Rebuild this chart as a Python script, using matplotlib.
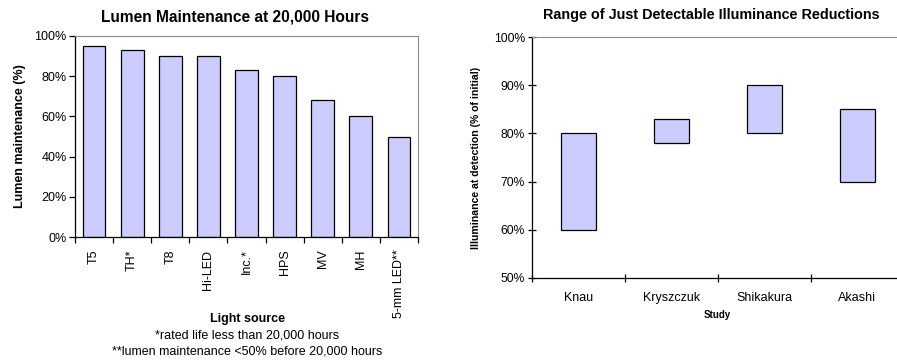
import matplotlib.pyplot as plt
from matplotlib.ticker import FuncFormatter, MultipleLocator

plt.rcParams['font.family'] = ['Liberation Sans', 'DejaVu Sans']

# lumen maintenance after 20,000 h
sources = ['T5', 'TH*', 'T8', 'Hi-LED', 'Inc.*', 'HPS', 'MV', 'MH', '5-mm LED**']
maintenance = [95, 93, 90, 90, 83, 80, 68, 60, 50]

# just detectable reduction ranges (low, high)
studies = ['Knau', 'Kryszczuk', 'Shikakura', 'Akashi']
range_low = [60, 78, 80, 70]
range_high = [80, 83, 90, 85]

bar_color = '#CCCCFF'
grey = '#8c8c8c'
W, H = 897, 362

fig = plt.figure(figsize=(W / 100, H / 100), dpi=100)
pct = FuncFormatter(lambda v, p: '%d%%' % v)

# --- left: bar chart
ax1 = fig.add_axes([75 / W, (H - 237) / H, 343 / W, 201 / H])
xs = range(len(sources))
ax1.bar(xs, maintenance, width=0.6, color=bar_color, edgecolor='black', linewidth=0.9)
ax1.set_xlim(-0.5, len(sources) - 0.5)
ax1.set_ylim(0, 100)
ax1.yaxis.set_major_locator(MultipleLocator(20))
ax1.yaxis.set_major_formatter(pct)
ax1.set_xticks(list(xs))
ax1.set_xticklabels(sources, rotation=90, fontsize=9)
ax1.set_xticks([i - 0.5 for i in range(len(sources) + 1)], minor=True)
ax1.tick_params(axis='x', which='major', length=0, pad=9)
ax1.tick_params(axis='x', which='minor', length=4, width=0.9, direction='out')
ax1.tick_params(axis='y', length=4, width=0.9, labelsize=9, pad=2)
for s in ('top', 'right'):
    ax1.spines[s].set_color(grey)
for s in ('left', 'bottom'):
    ax1.spines[s].set_linewidth(0.9)
fig.text(235 / W, 1 - 17 / H, 'Lumen Maintenance at 20,000 Hours', ha='center',
         va='center', fontsize=11.2, fontweight='bold')
ax1.set_ylabel('Lumen maintenance (%)', fontsize=9, fontweight='bold', labelpad=6)
fig.text(247 / W, 1 - 319 / H, 'Light source', ha='center', va='center',
         fontsize=9, fontweight='bold')
fig.text(247 / W, 1 - 335 / H, '*rated life less than 20,000 hours',
         ha='center', va='center', fontsize=9)
fig.text(247 / W, 1 - 352 / H, '**lumen maintenance <50% before 20,000 hours',
         ha='center', va='center', fontsize=9)

# --- right: floating range boxes
ax2 = fig.add_axes([531.7 / W, 84 / H, 372 / W, 241 / H])
xs2 = range(len(studies))
heights = [hi - lo for lo, hi in zip(range_low, range_high)]
ax2.vlines(list(xs2), range_low, range_high, color='black', linewidth=0.6, zorder=0.5)
ax2.bar(xs2, heights, bottom=range_low, width=0.375, color=bar_color,
        edgecolor='black', linewidth=0.9, zorder=1)
ax2.set_xlim(-0.5, len(studies) - 0.5)
ax2.set_ylim(50, 100)
ax2.yaxis.set_major_locator(MultipleLocator(10))
ax2.yaxis.set_major_formatter(pct)
ax2.set_xticks(list(xs2))
ax2.set_xticklabels(studies, fontsize=9)
ax2.set_xticks([i - 0.5 for i in range(len(studies) + 1)], minor=True)
ax2.tick_params(axis='x', which='major', length=0, pad=10)
ax2.tick_params(axis='x', which='minor', length=6, width=0.9, direction='inout')
ax2.tick_params(axis='y', length=6, width=0.9, direction='inout', labelsize=8.7, pad=2)
ax2.spines['top'].set_color(grey)
ax2.spines['right'].set_visible(False)
for s in ('left', 'bottom'):
    ax2.spines[s].set_linewidth(0.9)
fig.text(711 / W, 1 - 15 / H, 'Range of Just Detectable Illuminance Reductions',
         ha='center', va='center', fontsize=10.4, fontweight='bold')
ax2.set_ylabel('Illuminance at detection (% of initial)', fontsize=7.6,
               fontweight='bold', labelpad=9)
fig.text(717 / W, 1 - 315 / H, 'Study', ha='center', va='center',
         fontsize=7, fontweight='bold')

fig.savefig('out.png', dpi=100)
